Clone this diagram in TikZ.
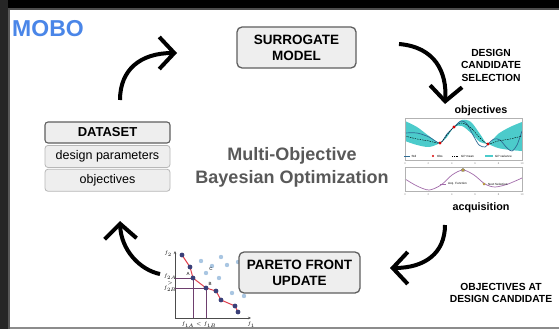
\documentclass[tikz,border=0pt]{standalone}
\usepackage{fontspec}
\setmainfont{Liberation Sans}
\usepackage{amsmath}
\usetikzlibrary{arrows.meta,positioning,shapes.geometric}

\definecolor{moboblue}{HTML}{4A86E8}
\definecolor{boxfill}{HTML}{EEEEEE}
\definecolor{boxline}{HTML}{5F5F5F}
\definecolor{rowline}{HTML}{B7B7B7}
\definecolor{titlegray}{HTML}{595959}
\definecolor{gpteal}{HTML}{4CCBCB}
\definecolor{gpblue}{HTML}{2F6B94}
\definecolor{acqpurple}{HTML}{A36DAB}
\definecolor{acqgold}{HTML}{B89A3E}
\definecolor{paretored}{HTML}{E0404E}
\definecolor{paretonavy}{HTML}{3A3F78}
\definecolor{cloudblue}{HTML}{A9C6E2}
\definecolor{guide}{HTML}{6E3F6E}

\tikzset{
  stagebox/.style={draw=boxline, line width=1.3pt, fill=boxfill, rounded corners=5pt,
    align=center, font=\fontsize{13.5}{16}\selectfont\bfseries,
    minimum width=119pt, minimum height=41pt, inner sep=0pt},
  headbox/.style={draw=boxline, line width=1.1pt, fill=boxfill, rounded corners=3pt,
    minimum width=125pt, minimum height=21pt, inner sep=0pt,
    font=\fontsize{13}{15}\selectfont\bfseries},
  rowbox/.style={draw=rowline, line width=0.8pt, fill=boxfill, rounded corners=3pt,
    minimum width=125pt, minimum height=22pt, inner sep=0pt,
    font=\fontsize{12.5}{14}\selectfont},
  steplabel/.style={align=center, inner sep=0pt, font=\fontsize{10.3}{12.5}\selectfont\bfseries},
  cyclearrow/.style={line width=4pt, -{Straight Barb[length=15pt,width=32pt]}},
  tinytext/.style={font=\fontsize{3}{3.5}\selectfont, inner sep=0pt},
  ticktext/.style={font=\fontsize{2.6}{3}\selectfont, inner sep=0pt, text=gray},
}

\begin{document}
\begin{tikzpicture}[x=1pt, y=-1pt]
  \useasboundingbox (0,0) rectangle (559,329);
  % frame of the slide
  \fill[white] (0,0) rectangle (559,329);
  \fill[black] (0,0) rectangle (559,8);
  \fill[black!70] (0,8) rectangle (559,10);
  \fill[black!85] (0,0) rectangle (8,329);
  \fill[black!65] (8,10) rectangle (10,329);
  \fill[black!45] (10,327) rectangle (559,329);

  \node[anchor=base west, inner sep=0pt, text=moboblue,
    font=\fontsize{23}{26}\selectfont\bfseries] (mobo) at (12,37) {MOBO};

  % stages of the loop
  \node[stagebox] (surrogate) at (296.5,47.5) {SURROGATE\\MODEL};

  \node[headbox] (dataset) at (107.5,132.5) {DATASET};
  \node[rowbox, below=1.5pt of dataset] (dparams) {design parameters};
  \node[rowbox, below=1pt of dparams] (dobjs) {objectives};

  \node[align=center, inner sep=0pt, text=titlegray,
    font=\fontsize{18}{23}\selectfont\bfseries] (title) at (292,167)
    {Multi-Objective\\Bayesian Optimization};

  \node[steplabel] (selectlbl) at (491,65) {DESIGN\\CANDIDATE\\SELECTION};
  \node[steplabel] (evallbl) at (501,293) {OBJECTIVES AT\\DESIGN CANDIDATE};

  \node[anchor=base, inner sep=0pt, font=\fontsize{10.8}{12}\selectfont\bfseries]
    (objlbl) at (481,113) {objectives};
  \node[anchor=base, inner sep=0pt, font=\fontsize{10.8}{12}\selectfont\bfseries]
    (acqlbl) at (481,210) {acquisition};

  % GP surrogate plot
  \fill[gpteal] plot[smooth] coordinates {(405,121) (417,127) (429,136) (440,143)
      (447,134) (454,127) (462,120) (471,122) (480,134) (488,144) (498,134)
      (510,127) (522,122)}
    -- plot[smooth] coordinates {(522,151) (510,150) (498,148) (488,144)
      (480,142) (471,133) (462,126) (454,127) (447,137) (440,143) (429,147)
      (417,145) (405,141)} -- cycle;
  \draw[gpblue, line width=0.7pt] plot[smooth] coordinates {(405,133) (417,133)
      (429,137) (440,143) (447,134) (454,127) (461,121) (467,124) (473,135)
      (479,145) (485,147) (488,144) (494,139) (500,140) (507,148) (512,151)
      (517,145) (522,131)};
  \draw[black, line width=0.4pt, dash pattern=on 1.5pt off 1pt] plot[smooth]
    coordinates {(405,136) (417,139) (429,141) (440,143) (447,135) (454,127)
      (462,123) (471,128) (480,138) (488,144) (498,141) (510,139) (522,136)};
  \foreach \p [count=\k] in {(440,143),(454,127),(488,144)}
    \node[diamond, fill=red!85!black, inner sep=0pt, minimum size=3.5pt] (obs\k) at \p {};
  \draw[gray!60, line width=0.4pt] (405,118) rectangle (522,160);
  % legend
  \draw[gpblue, line width=0.6pt] (404,156) -- (410,156);
  \node[tinytext, anchor=west] (lstd) at (411.5,156) {Std};
  \node[diamond, fill=red!85!black, inner sep=0pt, minimum size=2.5pt] (lobs) at (433,156) {};
  \node[tinytext, anchor=west] (lobstxt) at (437,156) {Obs};
  \draw[black, line width=0.4pt, dash pattern=on 1pt off 0.8pt] (452,156) -- (459,156);
  \node[tinytext, anchor=west] (lmean) at (461,156) {GP mean};
  \fill[gpteal] (485,154.6) rectangle (493,157.4);
  \node[tinytext, anchor=west] (lvar) at (495,156) {GP variance};
  \foreach \v [count=\k] in {0,2,4,6,8,10}
    \node[ticktext] (otick\k) at ({405+11.7*\v},164) {\v};

  % acquisition plot
  \draw[acqpurple, line width=0.7pt] plot[smooth] coordinates {(405,179) (417,186)
      (429,190) (441,185) (452,175) (463,170) (474,175) (485,184) (495,187)
      (508,184) (522,178)};
  \node[star, star points=5, fill=acqgold, draw=gray, line width=0.2pt,
    inner sep=0pt, minimum size=4pt] (nextpt) at (463,170) {};
  \draw[gray!60, line width=0.4pt] (405,167) rectangle (522,191);
  \draw[acqpurple, line width=0.6pt] (440,184) -- (446,184);
  \node[tinytext, anchor=west] (lacq) at (448,184) {Acq. Function};
  \node[star, star points=5, fill=acqgold, inner sep=0pt, minimum size=3pt] (lnext) at (484,184) {};
  \node[tinytext, anchor=west] (lnexttxt) at (488,184) {Next Selection};
  \foreach \v [count=\k] in {0,2,4,6,8,10}
    \node[ticktext] (atick\k) at ({405+11.7*\v},195) {\v};

  % pareto front plot
  \coordinate (porigin) at (175,318);
  \coordinate (pytop) at (175,251);
  \coordinate (pxend) at (251,318);
  \draw[black!70, line width=0.5pt, -{Stealth[length=3pt,width=2.5pt]}] (porigin) -- (pytop);
  \draw[black!70, line width=0.5pt, -{Stealth[length=3pt,width=2.5pt]}] (porigin) -- (pxend);
  \draw[guide, line width=0.5pt] (175,278) -| (193,318);
  \draw[guide, line width=0.5pt] (175,288) -| (206,318);
  \foreach \p in {(201,261),(221,257),(227,265),(238,262),(206,273),(219,278),
      (232,293),(244,296),(212,266)}
    \fill[cloudblue] \p circle (2.2pt);
  \draw[paretored, line width=1pt] plot coordinates {(182,255) (190,267) (193,278)
      (206,288) (216,291) (221,300) (235,306) (238,312)};
  \foreach \p [count=\k] in {(182,255),(190,267),(193,278),(206,288),(216,291),
      (221,300),(235,306),(238,312)}
    \fill[paretonavy] \p circle (2.4pt) coordinate (front\k);
  \node[tinytext, font=\fontsize{4.5}{5}\selectfont] (ptA) at (188,274) {A};
  \node[tinytext, font=\fontsize{4.5}{5}\selectfont] (ptB) at (210,283.5) {B};
  \node[tinytext, font=\fontsize{4.5}{5}\selectfont] (ptC) at (211,269) {C};
  \node[tinytext, font=\fontsize{4}{5}\selectfont] (fy) at (168,254) {$f_2$};
  \node[tinytext, font=\fontsize{3.5}{4}\selectfont] (f2a) at (170,277) {$f_{2A}$};
  \node[tinytext, font=\fontsize{3.5}{4}\selectfont] (fgt) at (170,283) {$>$};
  \node[tinytext, font=\fontsize{3.5}{4}\selectfont] (f2b) at (170,289) {$f_{2B}$};
  \node[tinytext, font=\fontsize{3.5}{4}\selectfont] (f1ab) at (199,325) {$f_{1A}<f_{1B}$};
  \node[tinytext, font=\fontsize{4}{5}\selectfont] (fx) at (251,325) {$f_1$};
  \node[stagebox, minimum width=121pt] (pareto) at (299.5,272.5) {PARETO FRONT\\UPDATE};

  % the loop
  \coordinate (tlS) at (120,100);
  \coordinate (tlE) at (177,53);
  \coordinate (trS) at (399,44);
  \coordinate (trE) at (445,104);
  \coordinate (brS) at (445,225);
  \coordinate (brE) at (390,268);
  \coordinate (blS) at (160,274);
  \coordinate (blE) at (120,221);
  \draw[cyclearrow] (tlS) .. controls (120,70) and (140,53) .. (tlE);
  \draw[cyclearrow] (trS) .. controls (435,47) and (447,72) .. (trE);
  \draw[cyclearrow] (brS) .. controls (445,253) and (425,268) .. (brE);
  \draw[cyclearrow] (blS) .. controls (140,270) and (121,250) .. (blE);
\end{tikzpicture}
\end{document}
